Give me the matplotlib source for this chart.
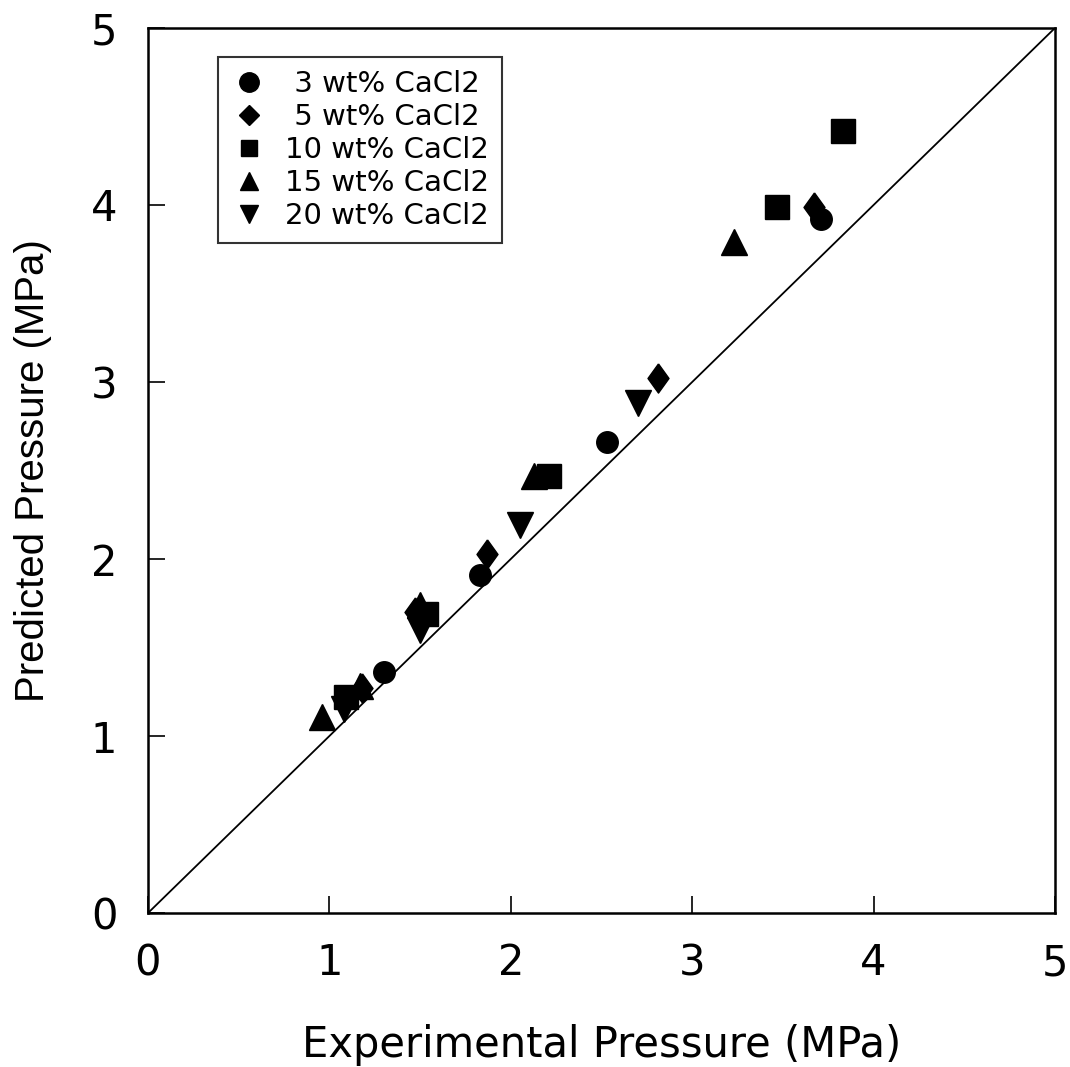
import matplotlib
matplotlib.use("Agg")
import matplotlib.pyplot as plt
from matplotlib.lines import Line2D

plt.rcParams['font.family'] = ['DejaVu Sans']

labels = [" 3 wt% CaCl2", " 5 wt% CaCl2", "10 wt% CaCl2", "15 wt% CaCl2", "20 wt% CaCl2"]
x3 = [1.30, 1.83, 2.53, 3.71]
y3 = [1.36, 1.91, 2.66, 3.92]
x5 = [1.18, 1.47, 1.87, 2.81, 3.67]
y5 = [1.27, 1.70, 2.03, 3.02, 3.99]
x10 = [1.09, 1.53, 2.21, 3.47, 3.83]
y10 = [1.22, 1.69, 2.47, 3.99, 4.42]
x15 = [0.96, 1.17, 1.50, 2.13, 3.23]
y15 = [1.11, 1.28, 1.74, 2.47, 3.79]
x20 = [1.08, 1.50, 2.05, 2.70]
y20 = [1.15, 1.60, 2.19, 2.88]
ticks = [0, 1, 2, 3, 4, 5]

tall_diamond = [(0, 1), (0.72, 0), (0, -1), (-0.72, 0), (0, 1)]

fig = plt.figure(figsize=(10.70, 10.67), dpi=100)
ax = fig.add_axes([0.1383, 0.1443, 0.986 - 0.1383, 0.9738 - 0.1443])

ax.plot([0, 5], [0, 5], color='black', lw=1.3)

series = [(x3, y3, 'o', 15.5, 'o', 14),
          (x5, y5, tall_diamond, 21, 'D', 10.5),
          (x10, y10, 's', 17, 's', 11.5),
          (x15, y15, '^', 19, '^', 12.5),
          (x20, y20, 'v', 19, 'v', 12.5)]
handles = []
for (xs, ys, m, ms, lm, lms), lab in zip(series, labels):
    ax.plot(xs, ys, linestyle='none', marker=m, markersize=ms, color='black')
    handles.append(Line2D([], [], linestyle='none', marker=lm, markersize=lms,
                          color='black', label=lab))

ax.set_xlim(0, 5)
ax.set_ylim(0, 5)
ax.set_xticks(ticks)
ax.set_yticks(ticks)
ax.tick_params(direction='in', length=12, width=1.2, labelsize=30,
               top=False, right=False)
ax.tick_params(axis='x', pad=21)
ax.tick_params(axis='y', pad=22)
for s in ax.spines.values():
    s.set_linewidth(1.8)

ax.set_xlabel("Experimental Pressure (MPa)", fontsize=30, labelpad=29)
ax.set_ylabel("Predicted Pressure (MPa)", fontsize=29, labelpad=28,
              fontfamily=['Liberation Sans', 'DejaVu Sans'])

leg = ax.legend(handles=handles, loc='upper left', bbox_to_anchor=(0.077, 0.967),
                fontsize=21, frameon=True, fancybox=False, edgecolor='black',
                handlelength=1.25, handletextpad=0.6, labelspacing=0.17,
                borderpad=0.45, borderaxespad=0)
leg.get_frame().set_linewidth(1.5)

fig.savefig("out.png", dpi=100, facecolor='white')
